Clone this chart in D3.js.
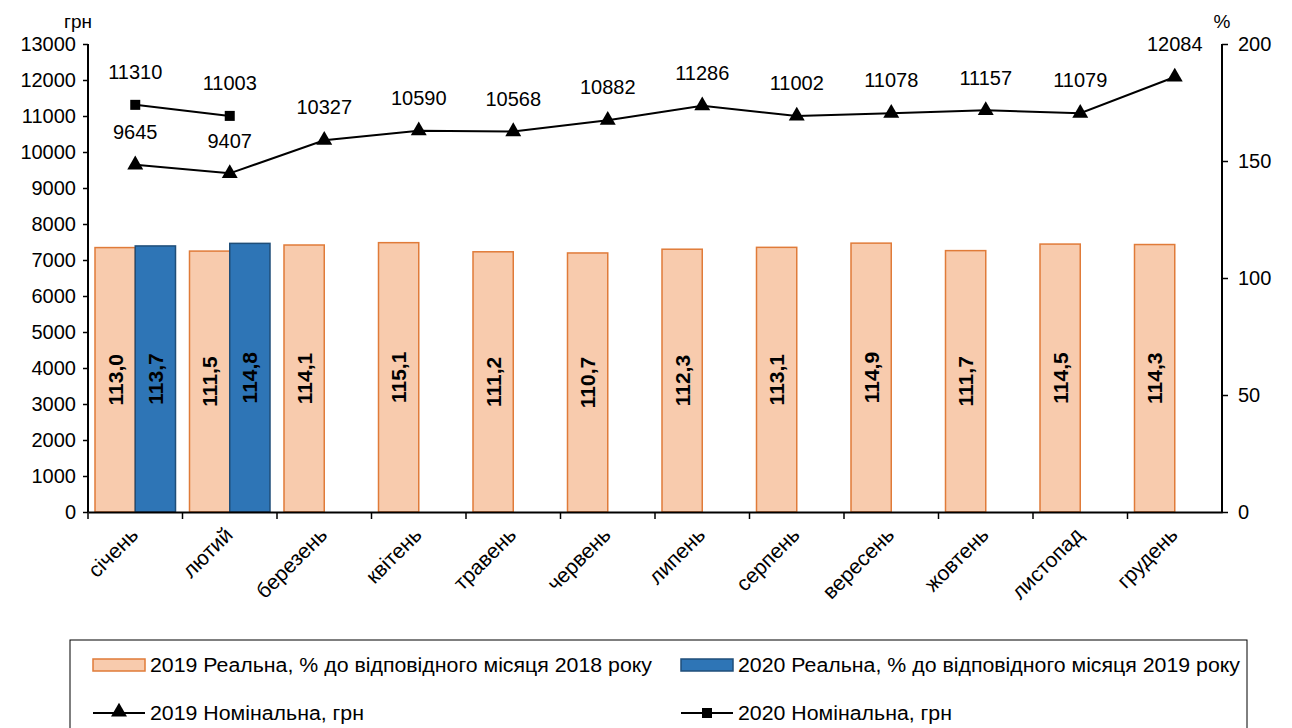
<!DOCTYPE html>
<html>
<head>
<meta charset="utf-8">
<script src="https://cdn.jsdelivr.net/npm/d3@7"></script>
<style>
  body { margin: 0; background: #fff; }
  text { font-family: "Liberation Sans", Arial, sans-serif; fill: #000; }
</style>
</head>
<body>
<div id="chart"></div>
<script>
// data
var months = ['січень', 'лютий', 'березень', 'квітень', 'травень', 'червень',
    'липень', 'серпень', 'вересень', 'жовтень', 'листопад', 'грудень'];
var real2019 = [113.0, 111.5, 114.1, 115.1, 111.2, 110.7, 112.3, 113.1, 114.9, 111.7, 114.5, 114.3];
var real2020 = [113.7, 114.8];
var nominal2019 = [9645, 9407, 10327, 10590, 10568, 10882, 11286, 11002, 11078, 11157, 11079, 12084];
var nominal2020 = [11310, 11003];
var leftTicks = d3.range(0, 13001, 1000);
var rightTicks = [0, 50, 100, 150, 200];
var legendLabels = [
    '2019 Реальна, % до відповідного місяця 2018 року',
    '2020 Реальна, % до відповідного місяця 2019 року',
    '2019 Номінальна, грн',
    '2020 Номінальна, грн'
];

var width = 1292, height = 728;
var margin = { left: 88, right: 70, top: 44, bottom: 216 };
var chartWidth = width - margin.left - margin.right;
var chartHeight = height - margin.top - margin.bottom;

var orangeFill = '#f8cbad', orangeStroke = '#e07b39';
var blueFill = '#2e75b6', blueStroke = '#1f4e79';
var fs = '20px';

var svg = d3.select('#chart').append('svg')
    .attr('width', width)
    .attr('height', height);

var chartG = svg.append('g')
    .attr('transform', 'translate(' + margin.left + ',' + margin.top + ')');

var xScale = d3.scaleBand().domain(months).range([0, chartWidth]);
var yLeft = d3.scaleLinear().domain([0, 13000]).range([chartHeight, 0]);
var yRight = d3.scaleLinear().domain([0, 200]).range([chartHeight, 0]);

var barPad = 7;
var barW = (xScale.bandwidth() - 2 * barPad) / 2;

function barLabel(sel, offset) {
    sel.append('text')
        .attr('transform', function(d, i) {
            var x = xScale(months[i]) + barPad + barW * offset;
            var y = (yRight(d) + chartHeight) / 2;
            return 'translate(' + x + ',' + y + ') rotate(-90)';
        })
        .attr('text-anchor', 'middle')
        .attr('dy', '0.36em')
        .style('font-size', '21px')
        .style('font-weight', 'bold')
        .text(function(d) { return d.toFixed(1).replace('.', ','); });
}

// bars 2019
var bars19 = chartG.selectAll('.bar19').data(real2019).enter().append('g');
bars19.append('rect')
    .attr('x', function(d, i) { return xScale(months[i]) + barPad; })
    .attr('y', function(d) { return yRight(d); })
    .attr('width', barW)
    .attr('height', function(d) { return chartHeight - yRight(d); })
    .attr('fill', orangeFill)
    .attr('stroke', orangeStroke)
    .attr('stroke-width', 1.5);
barLabel(bars19, 0.5);

// bars 2020
var bars20 = chartG.selectAll('.bar20').data(real2020).enter().append('g');
bars20.append('rect')
    .attr('x', function(d, i) { return xScale(months[i]) + barPad + barW; })
    .attr('y', function(d) { return yRight(d); })
    .attr('width', barW)
    .attr('height', function(d) { return chartHeight - yRight(d); })
    .attr('fill', blueFill)
    .attr('stroke', blueStroke)
    .attr('stroke-width', 1.5);
barLabel(bars20, 1.5);

// lines
var cx = function(d, i) { return xScale(months[i]) + xScale.bandwidth() / 2; };
var line = d3.line().x(cx).y(function(d) { return yLeft(d); });

[nominal2019, nominal2020].forEach(function(series) {
    chartG.append('path').datum(series)
        .attr('d', line).attr('fill', 'none').attr('stroke', '#000').attr('stroke-width', 2);
    chartG.append('g').selectAll('text').data(series).enter().append('text')
        .attr('x', cx)
        .attr('y', function(d) { return yLeft(d) - 33; })
        .attr('dy', '0.36em')
        .attr('text-anchor', 'middle')
        .style('font-size', fs)
        .text(function(d) { return d; });
});

chartG.selectAll('.tri').data(nominal2019).enter().append('path')
    .attr('transform', function(d, i) { return 'translate(' + cx(d, i) + ',' + yLeft(d) + ')'; })
    .attr('d', d3.symbol().type(d3.symbolTriangle).size(110))
    .attr('fill', '#000');
chartG.selectAll('.sq').data(nominal2020).enter().append('rect')
    .attr('x', function(d, i) { return cx(d, i) - 5; })
    .attr('y', function(d) { return yLeft(d) - 5; })
    .attr('width', 10).attr('height', 10)
    .attr('fill', '#000');

// axes
var leftAxis = d3.axisLeft(yLeft).tickValues(leftTicks).tickFormat(d3.format('d')).tickSize(5).tickPadding(7);
var gl = chartG.append('g').call(leftAxis);
var rightAxis = d3.axisRight(yRight).tickValues(rightTicks).tickSize(6).tickPadding(10);
var gr = chartG.append('g').attr('transform', 'translate(' + chartWidth + ',0)').call(rightAxis);

var xAxis = d3.axisBottom(xScale).tickSize(0).tickFormat('');
var gx = chartG.append('g').attr('transform', 'translate(0,' + chartHeight + ')').call(xAxis);
gx.selectAll('.sepTick').data(months).enter().append('line')
    .attr('x1', function(d) { return xScale(d); })
    .attr('x2', function(d) { return xScale(d); })
    .attr('y1', 0).attr('y2', 7)
    .attr('stroke', '#000').attr('stroke-width', 1.5);

[gl, gr, gx].forEach(function(g) {
    g.selectAll('.domain').attr('stroke', '#000').attr('stroke-width', 2);
    g.selectAll('.tick line').attr('stroke', '#000').attr('stroke-width', 1.5);
    g.selectAll('.tick text').style('font-size', fs).style('font-family', '"Liberation Sans", Arial, sans-serif').attr('fill', '#000');
});
gl.select('.domain').attr('d', 'M0,' + chartHeight + 'V0');
gr.select('.domain').attr('d', 'M0,' + chartHeight + 'V0');

// month labels
chartG.selectAll('.mlab').data(months).enter().append('text')
    .attr('transform', function(d) {
        var x = xScale(d) + xScale.bandwidth() / 2 - 1;
        return 'translate(' + x + ',' + (chartHeight + 19) + ') rotate(-45)';
    })
    .attr('text-anchor', 'end')
    .attr('dy', '0.35em')
    .style('font-size', '21px')
    .text(function(d) { return d; });

// axis units
svg.append('text').attr('x', 78).attr('y', 28).attr('text-anchor', 'middle')
    .style('font-size', '19px').text('грн');
svg.append('text').attr('x', 1222).attr('y', 28).attr('text-anchor', 'middle')
    .style('font-size', '19px').text('%');

// legend
var legend = svg.append('g');
legend.append('rect')
    .attr('x', 70).attr('y', 640).attr('width', 1177).attr('height', 100)
    .attr('fill', 'none').attr('stroke', '#000').attr('stroke-width', 1);

var legCols = [93, 681];
var legRows = [665, 713];
var swatchW = 52;

legendLabels.forEach(function(lab, i) {
    var lx = legCols[i % 2], ly = legRows[Math.floor(i / 2)];
    if (i < 2) {
        legend.append('rect')
            .attr('x', lx).attr('y', ly - 6).attr('width', swatchW).attr('height', 12)
            .attr('fill', i === 0 ? orangeFill : blueFill)
            .attr('stroke', i === 0 ? orangeStroke : blueStroke)
            .attr('stroke-width', 1.5);
    } else {
        legend.append('line')
            .attr('x1', lx).attr('x2', lx + swatchW).attr('y1', ly).attr('y2', ly)
            .attr('stroke', '#000').attr('stroke-width', 2);
        if (i === 2) {
            legend.append('path')
                .attr('transform', 'translate(' + (lx + swatchW / 2) + ',' + (ly - 1) + ')')
                .attr('d', d3.symbol().type(d3.symbolTriangle).size(110))
                .attr('fill', '#000');
        } else {
            legend.append('rect')
                .attr('x', lx + swatchW / 2 - 5).attr('y', ly - 5).attr('width', 10).attr('height', 10)
                .attr('fill', '#000');
        }
    }
    var t = legend.append('text')
        .attr('x', lx + swatchW + 5).attr('y', ly)
        .attr('dy', '0.36em')
        .style('font-size', fs)
        .text(lab);
    t.attr('textLength', i < 2 ? 502 : 214).attr('lengthAdjust', 'spacingAndGlyphs');
});
</script>
</body>
</html>
